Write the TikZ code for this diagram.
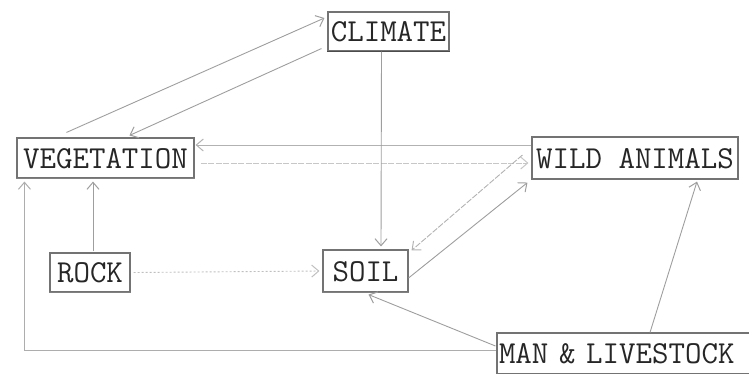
\documentclass[tikz,border=0pt]{standalone}
\usepackage{fontspec}
\usetikzlibrary{arrows.meta,calc}
\begin{document}
\begin{tikzpicture}[x=1pt,y=-1pt,
  box/.style={draw=black!55, line width=1.1pt, inner sep=0pt, text=black!85,
    font=\ttfamily\fontsize{32}{32}\selectfont, text height=20pt, text depth=0pt},
  base/.style={draw=black!70, line width=1.6pt},
  link/.style={draw=black!38, line width=0.9pt, -{Straight Barb[length=7pt,width=12pt,line width=1pt]}},
  faint/.style={link, draw=black!22, dash pattern=on 6pt off 1.5pt},
  dots/.style={link, draw=black!25, dash pattern=on 2pt off 2pt}]
\useasboundingbox (0,0) rectangle (749,373);
\begin{scope}
\clip (0,0) rectangle (749,373);
\node[box, minimum width=121pt, minimum height=39pt] (cli) at (388.5,31.5) {CLIMATE};
\node[box, minimum width=177pt, minimum height=40pt] (veg) at (105.5,158) {VEGETATION};
\node[box, minimum width=206pt, minimum height=42pt] (wild) at (635,158) {WILD ANIMALS};
\node[box, minimum width=80pt, minimum height=39pt] (rock) at (90,272.5) {ROCK};
\node[box, minimum width=85pt, minimum height=42pt] (soil) at (365.5,271) {SOIL};
\node[box, minimum width=256pt, minimum height=41pt, text width=252pt, align=left] (man) at (625,353.5) {MAN \& LIVESTOCK};
\draw[base] (cli.south west) -- (cli.south east);
\draw[base, draw=black!50] (veg.south west) -- (veg.south east);
\draw[base, draw=black!50] (rock.south west) -- (rock.south east);
\draw[base, draw=black!50] (soil.south west) -- (soil.south east);
\end{scope}
% climate <-> vegetation
\draw[link] ($(veg.north west)+(50,-5)$) -- ($(cli.west)+(-3,-13.5)$);
\draw[link] ($(cli.south west)+(-6,-3)$) -- ($(veg.north west)+(113,-2)$);
% wild <-> vegetation
\draw[link, draw=black!30] ($(wild.west)+(0,-13)$) -- ($(veg.east)+(1,-13)$);
\draw[faint] ($(veg.east)+(6,5)$) -- ($(wild.west)+(-3,5)$);
% climate -> soil
\draw[link] ($(cli.south)+(-7,0)$) -- ($(soil.north)+(15.5,-3)$);
% wild <-> soil
\draw[faint, draw=black!30] ($(wild.west)+(-9,-3)$) -- ($(soil.north east)+(3,1)$);
\draw[link] ($(soil.east)+(0,7)$) -- ($(wild.south west)+(-4,3)$);
% rock -> soil, rock -> vegetation
\draw[dots] ($(rock.east)+(3,0)$) -- ($(soil.west)+(-3,0)$);
\coordinate (r1) at ($(rock.north)+(3,-1)$);
\draw[link] (r1) -- ($(r1 |- veg.south)+(0,3)$);
% man & livestock
\draw[link, draw=black!32] ($(man.west)+(0,-3)$) -| ($(veg.south west)+(8,3)$);
\draw[link] ($(man.west)+(-1,-7.5)$) -- ($(soil.south)+(3,2)$);
\draw[link] ($(man.north)+(25,0)$) -- ($(wild.south)+(62,2)$);
\end{tikzpicture}
\end{document}
